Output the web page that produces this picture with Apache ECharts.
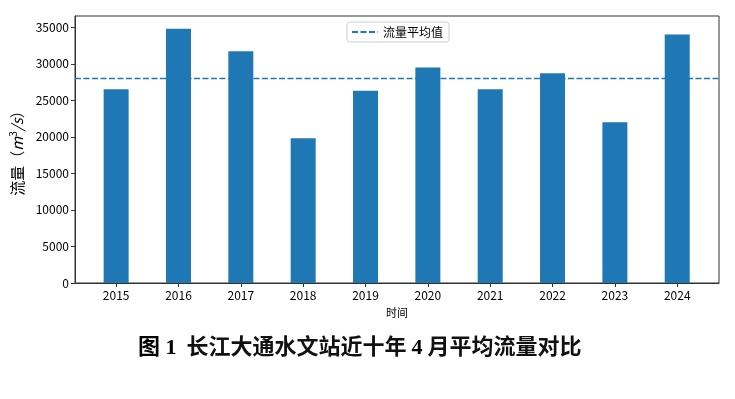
<!DOCTYPE html>
<html>
<head>
  <meta charset="utf-8">
  <title>长江大通水文站近十年4月平均流量对比</title>
  <script src="https://cdn.jsdelivr.net/npm/echarts@6/dist/echarts.min.js"></script>
  <style>
    html, body { margin: 0; padding: 0; background: #fff; }
  </style>
</head>
<body>
<div id="main" style="width: 735px; height: 399px"></div>
<script type="text/javascript">
// 年份与4月平均流量 (m3/s)
var years = ['2015', '2016', '2017', '2018', '2019', '2020', '2021', '2022', '2023', '2024'];
var flows = [26500, 34800, 31700, 19800, 26300, 29500, 26500, 28700, 22000, 34000];
var yTicks = [0, 5000, 10000, 15000, 20000, 25000, 30000, 35000];

var sum = 0;
for (var i = 0; i < flows.length; i++) sum += flows[i];
var avg = sum / flows.length;

var xMin = -0.66, xMax = years.length - 1 + 0.67;
var idx = years.map(function (y, i) { return i; });
var barData = flows.map(function (v, i) { return [i, v]; });

var font = "'Noto Sans CJK SC', sans-serif";
var serif = "'Liberation Serif', 'Noto Sans CJK SC', serif";
var myChart = echarts.init(document.getElementById('main'));
myChart.setOption({
  animation: false,
  grid: {
    left: 75, right: 16, top: 16, bottom: 116,
    show: true, borderColor: '#333', borderWidth: 1, backgroundColor: 'transparent'
  },
  legend: {
    top: 22, left: 347,
    data: ['流量平均值'],
    itemWidth: 26, itemHeight: 10, itemGap: 8,
    itemStyle: { opacity: 0 },
    borderColor: '#ccc', borderWidth: 1, borderRadius: 3,
    padding: [4, 6, 4, 4],
    textStyle: { fontFamily: font, fontSize: 12, color: '#000' }
  },
  title: {
    text: '{b|图 1}  {c|长江大通水文站近十年} {b|4} {c|月平均流量对比}',
    left: 133, top: 332,
    textStyle: {
      rich: {
        b: { fontFamily: serif, fontSize: 22, fontWeight: 'bold', color: '#000' },
        c: { fontFamily: serif, fontSize: 22, fontWeight: 'bold', color: '#111' }
      }
    }
  },
  xAxis: {
    type: 'value', min: xMin, max: xMax,
    name: '时间', nameLocation: 'middle', nameGap: 24,
    nameTextStyle: { fontFamily: font, fontSize: 11, color: '#000' },
    axisLine: { show: true, onZero: false, lineStyle: { color: '#333', width: 1 } },
    axisTick: { show: true, length: 4, lineStyle: { color: '#333' }, customValues: idx },
    axisLabel: {
      customValues: idx, color: '#000', fontFamily: font, fontSize: 12, margin: 6,
      formatter: function (v) { return years[Math.round(v)]; }
    },
    splitLine: { show: false }
  },
  yAxis: {
    type: 'value', min: 0, max: 36540,
    name: '流量（{i|m}{s|3}{i|/s}）', nameLocation: 'middle', nameGap: 49, nameRotate: 90,
    nameTextStyle: {
      fontFamily: font, fontSize: 15, color: '#000',
      rich: {
        i: { fontFamily: font, fontSize: 15, fontStyle: 'italic', color: '#000' },
        s: { fontFamily: font, fontSize: 10, color: '#000', padding: [0, 0, 8, 0] }
      }
    },
    axisLine: { show: true, onZero: false, lineStyle: { color: '#333', width: 1 } },
    axisTick: { show: true, length: 4, lineStyle: { color: '#333' }, customValues: yTicks },
    axisLabel: {
      customValues: yTicks, color: '#000', fontFamily: font, fontSize: 12, margin: 6,
      formatter: function (v) { return String(v); }
    },
    splitLine: { show: false }
  },
  series: [
    {
      name: '流量',
      type: 'bar',
      data: barData,
      barWidth: 25,
      itemStyle: { color: '#1f77b4' }
    },
    {
      name: '流量平均值',
      type: 'line',
      data: [[xMin, avg], [xMax, avg]],
      symbol: 'none',
      lineStyle: { color: '#1f77b4', width: 1.5, type: [6, 2.5] },
      itemStyle: { color: '#1f77b4' },
      z: 3
    }
  ]
});
</script>
</body>
</html>
